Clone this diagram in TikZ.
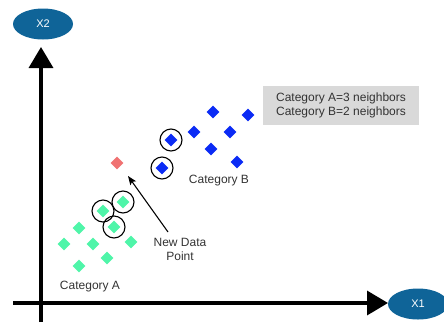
\documentclass[tikz,border=0pt]{standalone}
\usepackage{fontspec}
\setmainfont{Liberation Sans}
\usetikzlibrary{arrows.meta,shapes.geometric}
\definecolor{axisblue}{HTML}{0F6498}
\definecolor{catA}{HTML}{4FF5A9}
\definecolor{catB}{HTML}{0B2BF5}
\definecolor{newpt}{HTML}{F07272}
\definecolor{boxgray}{HTML}{D9D9D9}
\begin{document}
\begin{tikzpicture}[x=1pt,y=-1pt,
  axislbl/.style={ellipse,fill=axisblue,minimum width=60pt,minimum height=31pt,inner sep=0pt,text=white,font=\fontsize{11}{12}\selectfont},
  ptA/.style={diamond,fill=catA,minimum size=13pt,inner sep=0pt},
  ptB/.style={diamond,fill=catB,minimum size=13pt,inner sep=0pt},
  ptN/.style={diamond,fill=newpt,minimum size=13pt,inner sep=0pt},
  ring/.style={circle,draw=black,line width=1.1pt,minimum size=22pt,inner sep=0pt},
  lbl/.style={font=\fontsize{12}{14}\selectfont,text=black!80,align=center},
  axisline/.style={line width=3.5pt,-{Triangle[width=24pt,length=21pt]}}
]
\useasboundingbox (0,0) rectangle (444,322);
% axes
\coordinate (yb) at (41,322);
\coordinate (yt) at (41,47);
\coordinate (xl) at (13,303);
\coordinate (xr) at (388,303);
\draw[axisline] (yb) -- (yt);
\draw[axisline] (xl) -- (xr);
\node[axislbl] (x2) at (43,24) {X2};
\node[axislbl] (x1) at (418,304) {X1};
% category A
\node[ptA] (a1) at (123,202) {};
\node[ptA] (a2) at (103,211) {};
\node[ptA] (a3) at (114,227) {};
\node[ptA] (a4) at (79,228) {};
\node[ptA] (a5) at (64,244) {};
\node[ptA] (a6) at (93,244) {};
\node[ptA] (a7) at (131,242) {};
\node[ptA] (a8) at (107,258) {};
\node[ptA] (a9) at (79,266) {};
\node[ring] (ra1) at (a1) {};
\node[ring] (ra2) at (a2) {};
\node[ring] (ra3) at (a3) {};
% category B
\node[ptB] (b1) at (213,112) {};
\node[ptB] (b2) at (248,115) {};
\node[ptB] (b3) at (194,132) {};
\node[ptB] (b4) at (230,132) {};
\node[ptB] (b5) at (171,140) {};
\node[ptB] (b6) at (211,149) {};
\node[ptB] (b7) at (237,162) {};
\node[ptB] (b8) at (162,168) {};
\node[ring] (rb5) at (b5) {};
\node[ring] (rb8) at (b8) {};
% new point
\node[ptN] (n) at (117,163) {};
\coordinate (ntip) at (128,176);
% labels
\node[lbl] (la) at (90,287) {Category A};
\node[lbl] (lb) at (219,181) {Category B};
\node[lbl] (ln) at (180,249) {New Data\\Point};
\coordinate (ntail) at (168,232);
\draw[line width=1.1pt,-{Stealth[length=9pt,width=7pt,inset=2pt]}] (ntail) -- (ntip);
% box
\node[fill=boxgray,minimum width=156pt,minimum height=39pt,inner sep=0pt,
  font=\fontsize{12}{14}\selectfont,text=black!80,align=center] (box) at (341,105.5)
  {Category A=3 neighbors\\Category B=2 neighbors};
\end{tikzpicture}
\end{document}
